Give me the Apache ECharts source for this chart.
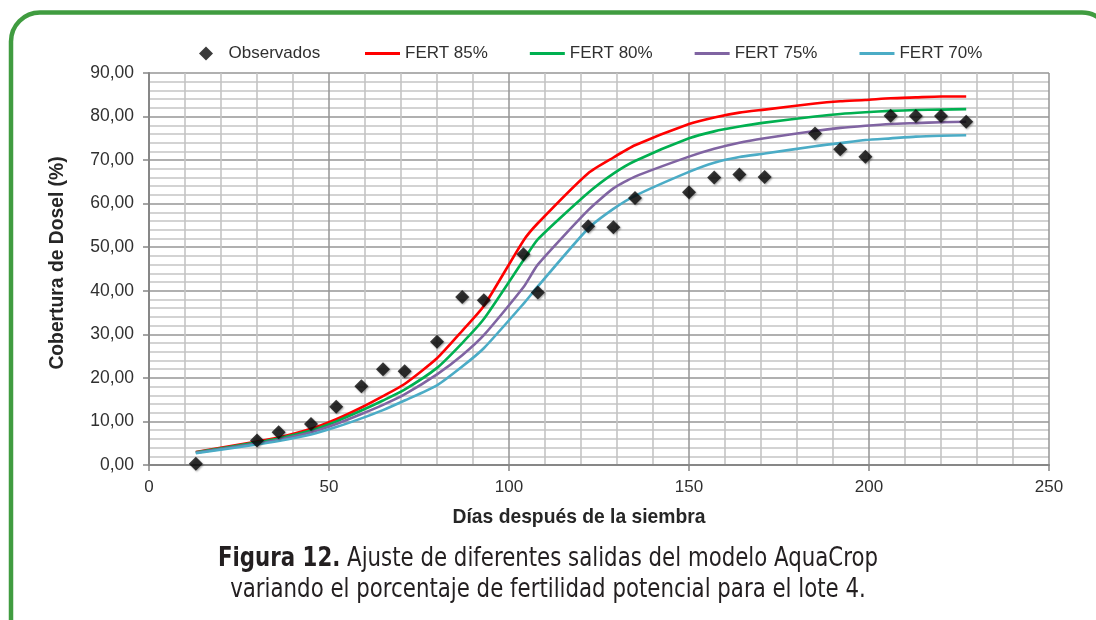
<!DOCTYPE html>
<html>
<head>
<meta charset="utf-8">
<script src="https://cdn.jsdelivr.net/npm/echarts@6/dist/echarts.min.js"></script>
<style>
  html, body { margin: 0; padding: 0; background: #ffffff; }
  #chart { width: 1096px; height: 620px; }
</style>
</head>
<body>
<div id="chart"></div>
<script>
// Days after sowing at which canopy cover was sampled / simulated
const days = [13, 30, 36, 45, 52, 59, 65, 71, 80, 87, 93, 104, 108, 122, 129, 135, 150, 157, 164, 171, 185, 192, 199, 206, 213, 220, 227];

// Observed canopy cover (%)
const observados = [0.3, 5.6, 7.5, 9.4, 13.4, 18.1, 22.0, 21.5, 28.3, 38.6, 37.8, 48.4, 39.6, 54.8, 54.6, 61.3, 62.6, 66.0, 66.7, 66.1, 76.1, 72.5, 70.8, 80.2, 80.1, 80.1, 78.8];

// AquaCrop simulated canopy cover (%) for each fertility level
const fert85 = [3.0, 5.4, 6.3, 8.3, 10.5, 13.2, 15.8, 18.6, 24.5, 30.8, 36.5, 51.5, 55.5, 67.0, 70.6, 73.4, 78.3, 79.8, 80.9, 81.6, 83.0, 83.5, 83.8, 84.2, 84.4, 84.6, 84.6];
const fert80 = [2.9, 5.2, 6.1, 7.9, 10.0, 12.5, 14.8, 17.3, 22.3, 28.0, 33.5, 47.0, 51.8, 62.5, 66.9, 69.8, 75.0, 76.6, 77.7, 78.6, 80.0, 80.6, 81.0, 81.3, 81.5, 81.6, 81.7];
const fert75 = [2.8, 4.9, 5.8, 7.5, 9.4, 11.7, 13.8, 16.2, 20.8, 25.2, 29.8, 40.8, 46.0, 58.5, 63.5, 66.2, 70.8, 72.6, 74.0, 75.0, 76.7, 77.4, 77.9, 78.3, 78.5, 78.7, 78.8];
const fert70 = [2.7, 4.7, 5.5, 7.0, 8.7, 10.7, 12.6, 14.8, 18.3, 22.6, 26.8, 37.0, 41.0, 54.3, 58.8, 61.8, 67.3, 69.4, 70.7, 71.5, 73.2, 73.9, 74.6, 75.0, 75.4, 75.6, 75.7];

const seriesNames = ['Observados', 'FERT 85%', 'FERT 80%', 'FERT 75%', 'FERT 70%'];
const lineColors = ['#ff0000', '#00b050', '#8064a2', '#4bacc6'];

const captionLine1 = ['Figura 12.', ' Ajuste de diferentes salidas del modelo AquaCrop'];
const captionLine2 = 'variando el porcentaje de fertilidad potencial para el lote 4.';

const pairs = (ys) => days.map((d, i) => [d, ys[i]]);

const chart = echarts.init(document.getElementById('chart'), null, { renderer: 'canvas' });

const textColor = '#303030';
const baseFont = 'Arial, "Liberation Sans", Helvetica, sans-serif';
const captionFont = '"Liberation Sans Narrow", "DejaVu Sans Condensed", sans-serif';

const lineSeries = [fert85, fert80, fert75, fert70].map((ys, i) => ({
  name: seriesNames[i + 1],
  type: 'line',
  data: pairs(ys),
  symbol: 'none',
  smooth: 0.2,
  lineStyle: { color: lineColors[i], width: 2.6 },
  itemStyle: { color: lineColors[i] },
  z: 3
}));

const legendText = { fontFamily: baseFont, fontSize: 17, color: textColor };

chart.setOption({
  animation: false,
  backgroundColor: '#ffffff',
  grid: { left: 149, top: 73, right: 47, bottom: 155, containLabel: false },
  legend: [
    {
      // marker legend for the observed points
      left: 194,
      top: 40,
      itemWidth: 35,
      itemHeight: 14,
      symbolKeepAspect: true,
      textStyle: legendText,
      data: [{ name: seriesNames[0], icon: 'path://M0,-1L1,0L0,1L-1,0Z' }]
    },
    {
      // line legend for the simulated curves
      left: 360,
      top: 40,
      itemWidth: 35,
      itemHeight: 3,
      itemGap: 42,
      icon: 'rect',
      textStyle: legendText,
      data: seriesNames.slice(1)
    }
  ],
  xAxis: {
    type: 'value',
    min: 0,
    max: 250,
    interval: 50,
    name: 'Días después de la siembra',
    nameLocation: 'middle',
    nameGap: 43,
    nameTextStyle: {
      fontFamily: baseFont, fontSize: 19.3, fontWeight: 'bold', color: '#262626',
      padding: [0, 40, 0, 0]
    },
    axisLine: { show: true, onZero: false, lineStyle: { color: '#878787', width: 2 } },
    axisTick: { show: true, length: 6, lineStyle: { color: '#878787', width: 1.5 } },
    axisLabel: { fontFamily: baseFont, fontSize: 17, color: textColor, margin: 14 },
    splitLine: { show: true, lineStyle: { color: '#969696', width: 1.5 } },
    minorTick: { show: false, splitNumber: 5 },
    minorSplitLine: { show: true, lineStyle: { color: '#c4c4c4', width: 1.6 } }
  },
  yAxis: {
    type: 'value',
    min: 0,
    max: 90,
    interval: 10,
    name: 'Cobertura de Dosel (%)',
    nameLocation: 'middle',
    nameGap: 82,
    nameTextStyle: {
      fontFamily: baseFont, fontSize: 19.3, fontWeight: 'bold', color: '#262626',
      padding: [0, 0, 0, 12]
    },
    axisLine: { show: true, lineStyle: { color: '#878787', width: 2 } },
    axisTick: { show: true, length: 6, lineStyle: { color: '#878787', width: 1.5 } },
    axisLabel: {
      fontFamily: baseFont, fontSize: 17.5, color: textColor, margin: 15,
      formatter: (v) => v.toFixed(2).replace('.', ',')
    },
    splitLine: { show: true, lineStyle: { color: '#969696', width: 1.5 } },
    minorTick: { show: false, splitNumber: 5 },
    minorSplitLine: { show: true, lineStyle: { color: '#c4c4c4', width: 1.6 } }
  },
  series: [
    {
      name: seriesNames[0],
      type: 'scatter',
      data: pairs(observados),
      symbol: 'diamond',
      symbolSize: 14,
      itemStyle: {
        color: '#0a0a0a',
        shadowColor: 'rgba(0,0,0,0.45)',
        shadowBlur: 2,
        shadowOffsetX: 1,
        shadowOffsetY: 1
      },
      z: 4
    },
    ...lineSeries
  ],
  graphic: [
    {
      // rounded green frame around the figure
      type: 'rect',
      shape: { x: 11, y: 12.5, width: 1100, height: 700, r: 29 },
      style: { fill: 'none', stroke: '#409c40', lineWidth: 4.5 },
      silent: true,
      z: 10
    },
    {
      type: 'text',
      x: 548,
      y: 573,
      scaleY: 1.12,
      style: {
        text: '{b|' + captionLine1[0] + '}{r|' + captionLine1[1] + '}',
        textAlign: 'center',
        textVerticalAlign: 'bottom',
        rich: {
          b: { fontFamily: captionFont, fontSize: 23.7, fontWeight: 'bold', fill: '#231f20' },
          r: { fontFamily: captionFont, fontSize: 23.7, fill: '#231f20' }
        }
      },
      z: 10
    },
    {
      type: 'text',
      x: 548,
      y: 604,
      scaleY: 1.12,
      style: {
        text: captionLine2,
        textAlign: 'center',
        textVerticalAlign: 'bottom',
        fontFamily: captionFont,
        fontSize: 23.7,
        fill: '#231f20'
      },
      z: 10
    }
  ]
});
</script>
</body>
</html>
